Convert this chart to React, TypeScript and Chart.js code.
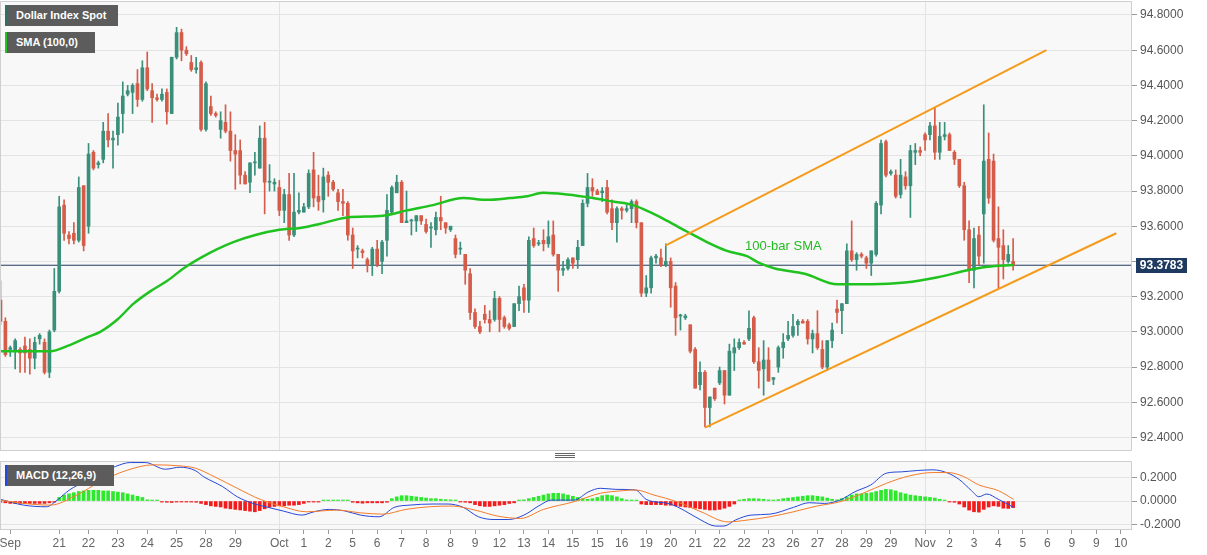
import React, { useEffect, useRef } from "react";
import { Chart, registerables } from "chart.js";

Chart.register(...registerables);

const FONT = '"Liberation Sans", Arial, Helvetica, sans-serif';

// ---- 4H candles (index 0 = first visible bar) ----
const OPEN = [
  93.18, 93.06, 92.9, 92.89, 92.9, 92.92, 92.9, 92.85, 92.96, 92.94,
  92.77, 93.01, 93.23, 93.72, 93.55, 93.56, 93.52, 93.83, 93.6, 94.02,
  93.95, 93.98, 94.14, 94.09, 94.12, 94.24, 94.35, 94.36, 94.41, 94.32,
  94.5, 94.37, 94.33, 94.32, 94.36, 94.24, 94.56, 94.7, 94.6, 94.53,
  94.49, 94.53, 94.15, 94.28, 94.24, 94.15, 94.19, 94.14, 94.03, 94.03,
  93.89, 93.85, 93.96, 93.93, 94.1, 93.85, 93.84, 93.82, 93.69, 93.78,
  93.55, 93.68, 93.68, 93.71, 93.92, 93.77, 93.75, 93.89, 93.85, 93.79,
  93.74, 93.73, 93.55, 93.47, 93.46, 93.41, 93.38, 93.47, 93.4, 93.52,
  93.68, 93.79, 93.85, 93.62, 93.63, 93.63, 93.66, 93.61, 93.59, 93.58,
  93.65, 93.62, 93.58, 93.53, 93.47, 93.44, 93.33, 93.11, 93.03, 93.1,
  93.07, 93.07, 93.19, 93.08, 93.04, 93.03, 93.16, 93.25, 93.18, 93.53,
  93.5, 93.52, 93.5, 93.55, 93.44, 93.35, 93.36, 93.42, 93.41, 93.49,
  93.73, 93.82, 93.8, 93.79, 93.82, 93.7, 93.62, 93.7, 93.69, 93.7,
  93.74, 93.62, 93.22, 93.25, 93.42, 93.42, 93.38, 93.4, 93.26, 93.09,
  93.08, 93.04, 92.9, 92.7, 92.77, 92.57, 92.68, 92.71, 92.78, 92.64,
  92.88, 92.91, 92.94, 92.96, 93.08, 92.83, 92.79, 92.84, 92.73, 92.8,
  92.91, 92.96, 92.98, 93.04, 93.06, 93.06, 92.96, 92.99, 92.9, 92.8,
  92.95, 93.13, 93.12, 93.16, 93.46, 93.41, 93.44, 93.42, 93.39, 93.44,
  93.72, 94.08, 93.9, 93.89, 93.78, 93.88, 93.83, 94.02, 94.03, 94.12,
  94.12, 94.17, 94.02, 94.11, 94.12, 94.02, 93.98, 93.83, 93.58, 93.35,
  93.55, 93.67, 93.98, 93.97, 93.53, 93.49, 93.4, 93.4,
];
const HIGH = [
  93.29, 93.08, 92.92, 92.96, 92.91, 92.97, 92.96, 92.97, 92.99, 92.96,
  93.01, 93.36, 93.77, 93.75, 93.57, 93.62, 93.88, 93.83, 94.07, 94.03,
  93.97, 94.19, 94.24, 94.14, 94.3, 94.42, 94.4, 94.41, 94.49, 94.54,
  94.59, 94.41, 94.35, 94.38, 94.38, 94.56, 94.73, 94.72, 94.62, 94.57,
  94.56, 94.54, 94.42, 94.34, 94.25, 94.25, 94.29, 94.25, 94.12, 94.09,
  93.91, 93.96, 94.02, 94.17, 94.19, 93.95, 93.87, 93.86, 93.81, 93.9,
  93.9, 93.79, 93.73, 93.92, 94.02, 93.89, 93.93, 93.91, 93.86, 93.81,
  93.81, 93.74, 93.59, 93.49, 93.47, 93.42, 93.48, 93.52, 93.52, 93.78,
  93.83, 93.89, 93.86, 93.8, 93.64, 93.66, 93.66, 93.64, 93.62, 93.68,
  93.77, 93.62, 93.6, 93.55, 93.51, 93.44, 93.36, 93.13, 93.06, 93.15,
  93.12, 93.23, 93.2, 93.09, 93.05, 93.16, 93.26, 93.27, 93.54, 93.59,
  93.52, 93.58, 93.63, 93.63, 93.44, 93.4, 93.42, 93.42, 93.52, 93.75,
  93.9, 93.87, 93.81, 93.82, 93.86, 93.75, 93.71, 93.71, 93.72, 93.75,
  93.75, 93.62, 93.32, 93.43, 93.44, 93.47, 93.5, 93.42, 93.28, 93.1,
  93.1, 93.04, 92.91, 92.83, 92.78, 92.63, 92.68, 92.8, 92.78, 92.93,
  92.96, 92.96, 92.95, 93.12, 93.09, 92.91, 92.95, 92.91, 92.74, 92.92,
  92.99, 93.06, 93.1, 93.07, 93.07, 93.07, 93.01, 93.12, 92.95, 92.95,
  93.05, 93.18, 93.16, 93.5, 93.63, 93.45, 93.45, 93.43, 93.46, 93.74,
  94.09, 94.09, 93.92, 93.92, 93.98, 93.91, 94.06, 94.07, 94.05, 94.13,
  94.19, 94.27, 94.19, 94.19, 94.13, 94.03, 93.98, 93.85, 93.63, 93.59,
  93.6, 94.29, 94.13, 94.01, 93.71, 93.58, 93.49, 93.53,
];
const LOW = [
  93.04, 92.86, 92.86, 92.79, 92.77, 92.77, 92.76, 92.79, 92.93, 92.76,
  92.74, 93.0, 93.22, 93.52, 93.5, 93.5, 93.51, 93.46, 93.56, 93.92,
  93.93, 93.96, 94.05, 93.93, 94.06, 94.13, 94.34, 94.24, 94.28, 94.31,
  94.37, 94.19, 94.31, 94.31, 94.18, 94.24, 94.55, 94.54, 94.57, 94.48,
  94.47, 94.14, 94.14, 94.23, 94.22, 94.1, 94.13, 93.97, 93.81, 93.84,
  93.84, 93.79, 93.89, 93.93, 93.67, 93.8, 93.8, 93.66, 93.62, 93.52,
  93.54, 93.67, 93.68, 93.7, 93.71, 93.69, 93.68, 93.77, 93.8, 93.69,
  93.66, 93.52, 93.36, 93.42, 93.42, 93.34, 93.32, 93.37, 93.33, 93.43,
  93.67, 93.79, 93.62, 93.62, 93.55, 93.57, 93.61, 93.56, 93.48, 93.55,
  93.58, 93.56, 93.57, 93.42, 93.44, 93.27, 93.07, 93.02, 92.99, 93.05,
  93.0, 93.06, 93.0, 93.02, 93.01, 93.03, 93.12, 93.11, 93.11, 93.48,
  93.49, 93.46, 93.48, 93.43, 93.23, 93.32, 93.35, 93.36, 93.36, 93.49,
  93.71, 93.77, 93.78, 93.74, 93.67, 93.58, 93.51, 93.64, 93.68, 93.62,
  93.59, 93.2, 93.2, 93.22, 93.39, 93.37, 93.37, 93.14, 92.98, 93.01,
  93.07, 92.88, 92.68, 92.67, 92.46, 92.46, 92.61, 92.7, 92.59, 92.64,
  92.78, 92.9, 92.93, 92.95, 92.82, 92.68, 92.64, 92.72, 92.7, 92.77,
  92.85, 92.95, 92.97, 92.98, 93.05, 92.93, 92.88, 92.9, 92.79, 92.78,
  92.91, 93.05, 92.99, 93.16, 93.4, 93.35, 93.42, 93.36, 93.32, 93.43,
  93.67, 93.88, 93.89, 93.76, 93.76, 93.81, 93.65, 93.95, 94.0, 94.03,
  94.09, 93.98, 93.98, 94.09, 94.03, 93.95, 93.82, 93.52, 93.28, 93.25,
  93.38, 93.39, 93.73, 93.51, 93.25, 93.3, 93.39, 93.35,
];
const CLOSE = [
  93.06, 92.87, 92.91, 92.95, 92.88, 92.88, 92.85, 92.94, 92.98, 92.77,
  93.0, 93.23, 93.71, 93.56, 93.53, 93.52, 93.82, 93.49, 94.01, 93.93,
  93.96, 94.14, 94.09, 94.1, 94.22, 94.34, 94.37, 94.4, 94.32, 94.5,
  94.38, 94.33, 94.32, 94.35, 94.25, 94.56, 94.7, 94.6, 94.58, 94.49,
  94.5, 94.15, 94.41, 94.24, 94.23, 94.2, 94.14, 94.03, 94.01, 93.89,
  93.84, 93.96, 93.96, 94.1, 93.85, 93.85, 93.85, 93.69, 93.78, 93.55,
  93.68, 93.69, 93.71, 93.9, 93.76, 93.74, 93.88, 93.85, 93.81, 93.74,
  93.73, 93.55, 93.46, 93.47, 93.45, 93.38, 93.47, 93.38, 93.51, 93.69,
  93.82, 93.85, 93.62, 93.63, 93.63, 93.66, 93.63, 93.57, 93.59, 93.65,
  93.63, 93.59, 93.6, 93.44, 93.47, 93.35, 93.11, 93.03, 93.0, 93.07,
  93.05, 93.19, 93.07, 93.03, 93.02, 93.16, 93.2, 93.18, 93.52, 93.49,
  93.5, 93.5, 93.54, 93.44, 93.35, 93.36, 93.41, 93.39, 93.48, 93.73,
  93.82, 93.8, 93.78, 93.8, 93.68, 93.62, 93.7, 93.69, 93.7, 93.74,
  93.62, 93.22, 93.25, 93.42, 93.43, 93.38, 93.4, 93.25, 93.08, 93.09,
  93.09, 92.89, 92.68, 92.77, 92.57, 92.63, 92.62, 92.78, 92.64, 92.89,
  92.91, 92.94, 92.93, 93.02, 92.83, 92.78, 92.84, 92.72, 92.74, 92.91,
  92.94, 92.98, 93.03, 93.06, 93.05, 92.96, 92.99, 92.91, 92.8, 92.95,
  93.01, 93.11, 93.16, 93.46, 93.41, 93.44, 93.43, 93.39, 93.46, 93.73,
  94.07, 93.89, 93.91, 93.77, 93.89, 93.83, 94.03, 94.03, 94.02, 94.09,
  94.17, 94.02, 94.11, 94.12, 94.03, 93.98, 93.83, 93.58, 93.35, 93.53,
  93.43, 93.97, 93.76, 93.52, 93.48, 93.41, 93.44, 93.3783,
];

// ---- 100-bar SMA, read at sample bars ----
const SMA_BAR = [
  0, 10.2, 13.7, 17.8, 20.4, 23.9, 27.2, 30.6, 34.1, 37.4, 40.9, 44.3, 47.6,
  52.1, 57, 61.3, 64.8, 70.9, 78.2, 83.1, 88.4, 94.6, 99.5, 104.2, 107.7,
  110.9, 115.8, 121.1, 125.2, 129.3, 132.8, 136.3, 140.3, 144.4, 148.5,
  152.6, 155.2, 158.3, 164.4, 171.1, 178.1, 184.9, 191.6, 197.7, 201.8, 207,
];
const SMA_VALUE = [
  92.89, 92.89, 92.92, 92.97, 93.0, 93.07, 93.16, 93.23, 93.29, 93.36, 93.42,
  93.47, 93.51, 93.55, 93.58, 93.59, 93.61, 93.65, 93.66, 93.69, 93.72, 93.76,
  93.75, 93.76, 93.77, 93.79, 93.78, 93.76, 93.74, 93.72, 93.68, 93.63, 93.57,
  93.51, 93.46, 93.43, 93.39, 93.36, 93.33, 93.27, 93.27, 93.28, 93.31, 93.35,
  93.37, 93.38,
];

// ---- channel lines (bar index, price) ----
const UPPER_CHANNEL_BAR = [135.9, 213.8];
const UPPER_CHANNEL_PRICE = [93.49, 94.6];
const LOWER_CHANNEL_BAR = [144, 228.1];
const LOWER_CHANNEL_PRICE = [92.456, 93.56];

const LAST_PRICE = 93.3783;
const SMA_LABEL_BAR = 152.2;
const SMA_LABEL_PRICE = 93.483;

// ---- MACD (12,26,9) ----
const MACD_BAR = [
  0, 4.7, 9.4, 11.6, 14.1, 17.2, 20.4, 23.5, 26.5, 29.6, 33.7, 36.7, 39.8,
  41.5, 45.4, 48.4, 51.6, 54.7, 57.8, 61.6, 64.1, 67.2, 70.3, 73.6, 77.4,
  80.5, 83.7, 88.4, 91.5, 94.6, 97.7, 100.9, 103.9, 107, 110.3, 112.6, 117.2,
  120.3, 122.6, 125.8, 129.8, 132, 136.9, 139.9, 143.2, 146.2, 147.9, 150.2,
  153.4, 157.3, 162.1, 165.3, 168.4, 171.6, 174.7, 177.9, 181.1, 184.2, 187.4,
  190.6, 193.7, 196.1, 198.5, 200, 201.6, 204, 207.1,
];
const MACD_VALUE = [
  0.014, -0.034, -0.048, 0.008, 0.093, 0.163, 0.234, 0.29, 0.323, 0.323,
  0.267, 0.284, 0.256, 0.205, 0.121, 0.036, -0.02, -0.053, -0.084, -0.118,
  -0.09, -0.07, -0.082, -0.118, -0.132, -0.053, -0.034, -0.025, -0.025,
  -0.053, -0.132, -0.155, -0.155, -0.118, -0.034, 0.008, 0.008, 0.079, 0.107,
  0.098, 0.093, 0.014, -0.025, -0.082, -0.16, -0.21, -0.21, -0.16, -0.118,
  -0.11, -0.053, -0.014, -0.02, 0.008, 0.079, 0.135, 0.234, 0.245, 0.256,
  0.262, 0.234, 0.177, 0.087, 0.036, 0.059, 0.014, -0.053,
];
const SIGNAL_BAR = [
  0, 4.7, 10.2, 15.6, 20.4, 25.7, 31.3, 36.7, 39.8, 43.7, 48.4, 53.1, 57.8,
  62.5, 68.8, 73.6, 78.2, 82.9, 87.7, 92.3, 97, 101.7, 106.3, 111, 117.2,
  122.6, 127.3, 129.8, 133.6, 138.3, 143.2, 148.7, 152.6, 157.3, 162.1, 166.9,
  171.6, 176.3, 181.1, 185.8, 190.6, 193.7, 196.9, 200, 204, 207.1,
];
const SIGNAL_VALUE = [
  0.008, -0.02, -0.034, 0.05, 0.163, 0.256, 0.304, 0.295, 0.276, 0.205, 0.107,
  0.014, -0.048, -0.09, -0.076, -0.099, -0.11, -0.07, -0.048, -0.042, -0.076,
  -0.127, -0.146, -0.07, -0.006, 0.065, 0.087, 0.093, 0.05, -0.006, -0.09,
  -0.175, -0.16, -0.132, -0.09, -0.042, -0.006, 0.065, 0.149, 0.211, 0.239,
  0.239, 0.205, 0.135, 0.087, 0.014,
];
const HISTOGRAM = [
  -0.01, -0.015, -0.02, -0.02, -0.02, -0.02, -0.02, -0.02, -0.02, -0.02, -0.015, -0.01,
  0.03, 0.05, 0.06, 0.07, 0.08, 0.085, 0.09, 0.09, 0.09, 0.085, 0.085, 0.08, 0.075, 0.07, 0.06, 0.05, 0.04, 0.03, 0.01,
  0.005, 0.003, -0.005, -0.01, -0.012, -0.008, -0.003, -0.003, -0.005, -0.01,
  -0.02, -0.03, -0.04, -0.045, -0.05, -0.06, -0.065, -0.07, -0.075, -0.08, -0.085, -0.09, -0.08, -0.065, -0.05, -0.045, -0.04, -0.04, -0.035, -0.035, -0.03, -0.02,
  -0.008, -0.005, -0.003,
  0.004, 0.005, 0.005, 0.005, 0.004, 0.003,
  -0.01, -0.015, -0.018, -0.015, -0.015, -0.015, -0.015, -0.01,
  0.02, 0.035, 0.045, 0.045, 0.04, 0.035, 0.03, 0.025, 0.02, 0.02, 0.015, 0.012, 0.01, 0.008,
  -0.005, -0.01, -0.015, -0.03, -0.04, -0.045, -0.045, -0.04, -0.035, -0.03, -0.02, -0.015,
  0.005, 0.01, 0.02, 0.03, 0.04, 0.05, 0.06, 0.065, 0.065, 0.06, 0.05, 0.04, 0.03, 0.02, 0.015, 0.02, 0.03, 0.045,
  0.05, 0.045, 0.035, 0.02, 0.01, 0.005, 0.003,
  -0.025, -0.03, -0.03, -0.03, -0.03, -0.035, -0.035, -0.04, -0.045, -0.05, -0.055, -0.06, -0.065, -0.07, -0.075, -0.075, -0.07, -0.06, -0.045, -0.025,
  0.005, 0.015, 0.02, 0.02, 0.018, 0.015, 0.01, 0.008, 0.012, 0.02, 0.025, 0.03, 0.035, 0.04, 0.045, 0.045, 0.04, 0.035, 0.025, 0.015, 0.01,
  0.02, 0.035, 0.05, 0.06, 0.06, 0.065, 0.07, 0.08, 0.09, 0.098, 0.095, 0.085, 0.07, 0.06, 0.05, 0.045, 0.04, 0.035, 0.03, 0.025, 0.015, 0.008,
  -0.003, -0.01, -0.025, -0.05, -0.076, -0.09, -0.093, -0.07, -0.05, -0.04, -0.045, -0.06, -0.062, -0.055,
];

// ---- axes ----
const PRICE_TICKS = [92.4, 92.6, 92.8, 93.0, 93.2, 93.4, 93.6, 93.8, 94.0, 94.2, 94.4, 94.6, 94.8];
const PRICE_TICK_UNDER_LABEL = 93.4;
const MACD_TICKS = [-0.2, 0, 0.2];
const TIME_TICK_BAR = [
  2, 12, 18, 24, 30, 36, 42, 48, 57, 62, 67, 72, 77, 82, 87, 92, 97, 102, 107,
  112, 117, 122, 127, 132, 137, 142, 147, 152, 157, 162, 167, 172, 177, 182,
  189, 194, 199, 204, 209, 214, 219, 224, 229,
];
const TIME_TICK_LABEL = [
  "Sep", "21", "22", "23", "24", "25", "28", "29", "Oct", "1", "2", "5", "6",
  "7", "8", "8", "9", "12", "13", "14", "15", "15", "16", "19", "20", "21",
  "22", "22", "23", "26", "27", "28", "29", "29", "Nov", "2", "3", "4", "5",
  "6", "9", "9", "10",
];
const MONTH_TICK_BAR = [57, 189];

const X_MIN = -0.1;
const X_MAX = 231.3;
const PRICE_MIN = 92.323;
const PRICE_MAX = 94.8795;
const MACD_MIN = -0.243;
const MACD_MAX = 0.336;

const UP = "#3a8f7b";
const DOWN = "#d65c4a";
const AXIS_W = 75;

function xScale(showLabels: boolean) {
  return {
    type: "linear" as const,
    min: X_MIN,
    max: X_MAX,
    offset: false,
    afterBuildTicks: (s: any) => {
      s.ticks = TIME_TICK_BAR.map((v) => ({ value: v }));
    },
    afterFit: (s: any) => {
      s.height = showLabels ? 25 : 0;
      s.paddingLeft = 0;
      s.paddingRight = 0;
    },
    border: { display: false },
    grid: {
      offset: false,
      drawTicks: showLabels,
      tickLength: 4,
      tickColor: "#9a9a9a",
      color: (c: any) =>
        c.tick && MONTH_TICK_BAR.includes(c.tick.value) ? "#e2e2e2" : "rgba(0,0,0,0)",
    },
    ticks: {
      display: showLabels,
      autoSkip: false,
      maxRotation: 0,
      minRotation: 0,
      padding: 2,
      color: "#666",
      font: { size: 12, family: FONT },
      callback: (_v: any, i: number) => TIME_TICK_LABEL[i],
    },
  };
}

function yScale(min: number, max: number, ticks: number[], label: (v: number) => string) {
  return {
    type: "linear" as const,
    position: "right" as const,
    min,
    max,
    afterBuildTicks: (s: any) => {
      s.ticks = ticks.map((v) => ({ value: v }));
    },
    afterFit: (s: any) => {
      s.width = AXIS_W;
      s.paddingTop = 0;
      s.paddingBottom = 0;
    },
    border: { display: false },
    grid: { color: "#e4e4e4", tickColor: "#9a9a9a", tickLength: 5 },
    ticks: {
      padding: 3,
      color: "#555",
      font: { size: 12, family: FONT },
      callback: (v: any) => label(Number(v)),
    },
  };
}

const panelPlugin = (drawExtra?: (chart: any) => void) => ({
  id: "panelDecor",
  beforeDraw(chart: any) {
    const { ctx, chartArea: a } = chart;
    ctx.save();
    ctx.fillStyle = "#f8f8f8";
    ctx.fillRect(a.left, a.top, a.right - a.left, a.bottom - a.top);
    ctx.restore();
  },
  afterDraw(chart: any) {
    const { ctx, chartArea: a } = chart;
    ctx.save();
    ctx.strokeStyle = "#cfcfcf";
    ctx.lineWidth = 1;
    ctx.strokeRect(a.left + 0.5, a.top + 0.5, a.right - a.left - 1, a.bottom - a.top - 1);
    ctx.restore();
    if (drawExtra) drawExtra(chart);
  },
});

export default function App() {
  const mainRef = useRef<HTMLCanvasElement>(null);
  const macdRef = useRef<HTMLCanvasElement>(null);

  useEffect(() => {
    Chart.defaults.font.family = FONT;
    const idx = OPEN.map((_, i) => i);
    const candleColor = idx.map((i) => (CLOSE[i] >= OPEN[i] ? UP : DOWN));

    const mainExtra = (chart: any) => {
      const { ctx, chartArea: a, scales } = chart;
      const y = scales.y.getPixelForValue(LAST_PRICE);
      ctx.save();
      ctx.fillStyle = "#1f3a60";
      ctx.fillRect(a.right + 4, Math.round(y) - 7, 51, 15);
      ctx.fillStyle = "#fff";
      ctx.font = `bold 12px ${FONT}`;
      ctx.textAlign = "center";
      ctx.textBaseline = "middle";
      ctx.fillText(LAST_PRICE.toFixed(4), a.right + 4 + 25.5, Math.round(y) + 0.5);
      ctx.fillStyle = "#22bb22";
      ctx.font = `13px ${FONT}`;
      ctx.textAlign = "left";
      ctx.fillText(
        "100-bar SMA",
        scales.x.getPixelForValue(SMA_LABEL_BAR),
        scales.y.getPixelForValue(SMA_LABEL_PRICE)
      );
      ctx.restore();
    };

    const main = new Chart(mainRef.current!, {
      type: "bar",
      data: {
        datasets: [
          {
            type: "line",
            data: SMA_BAR.map((x, i) => ({ x, y: SMA_VALUE[i] })),
            borderColor: "#1fc21f",
            borderWidth: 2.5,
            pointRadius: 0,
            cubicInterpolationMode: "monotone",
            order: 1,
          } as any,
          {
            type: "line",
            data: UPPER_CHANNEL_BAR.map((x, i) => ({ x, y: UPPER_CHANNEL_PRICE[i] })),
            borderColor: "#f59b1b",
            borderWidth: 2,
            pointRadius: 0,
            order: 0,
          } as any,
          {
            type: "line",
            data: LOWER_CHANNEL_BAR.map((x, i) => ({ x, y: LOWER_CHANNEL_PRICE[i] })),
            borderColor: "#f59b1b",
            borderWidth: 2,
            pointRadius: 0,
            order: 0,
          } as any,
          {
            type: "line",
            data: [
              { x: X_MIN, y: LAST_PRICE },
              { x: X_MAX, y: LAST_PRICE },
            ],
            borderColor: "#1f3a60",
            borderWidth: 1,
            pointRadius: 0,
            order: 4,
          } as any,
          {
            type: "bar",
            data: idx.map((i) => ({ x: i, y: [LOW[i], HIGH[i]] })),
            backgroundColor: candleColor,
            barThickness: 1,
            grouped: false,
            order: 3,
          } as any,
          {
            type: "bar",
            data: idx.map((i) => ({ x: i, y: [OPEN[i], CLOSE[i]] })),
            backgroundColor: candleColor,
            barThickness: 3,
            minBarLength: 1,
            grouped: false,
            order: 2,
          } as any,
        ],
      },
      options: {
        responsive: false,
        animation: false,
        layout: { padding: { top: 1, bottom: 1, left: 0, right: 0 } },
        plugins: { legend: { display: false }, tooltip: { enabled: false } },
        scales: {
          x: xScale(false) as any,
          y: yScale(PRICE_MIN, PRICE_MAX, PRICE_TICKS, (v) =>
            Math.abs(v - PRICE_TICK_UNDER_LABEL) < 1e-6 ? "" : v.toFixed(4)
          ) as any,
        },
      },
      plugins: [panelPlugin(mainExtra)],
    });

    const macd = new Chart(macdRef.current!, {
      type: "bar",
      data: {
        datasets: [
          {
            type: "line",
            data: MACD_BAR.map((x, i) => ({ x, y: MACD_VALUE[i] })),
            borderColor: "#2748d8",
            borderWidth: 1,
            pointRadius: 0,
            cubicInterpolationMode: "monotone",
            order: 1,
          } as any,
          {
            type: "line",
            data: SIGNAL_BAR.map((x, i) => ({ x, y: SIGNAL_VALUE[i] })),
            borderColor: "#f57c2a",
            borderWidth: 1,
            pointRadius: 0,
            cubicInterpolationMode: "monotone",
            order: 0,
          } as any,
          {
            type: "bar",
            data: HISTOGRAM.map((v, i) => ({ x: i, y: v })),
            backgroundColor: HISTOGRAM.map((v) => (v >= 0 ? "#2ee82e" : "#f21c1c")),
            barThickness: 3,
            minBarLength: 1,
            grouped: false,
            order: 2,
          } as any,
        ],
      },
      options: {
        responsive: false,
        animation: false,
        layout: { padding: { top: 6, bottom: 0, left: 0, right: 0 } },
        plugins: { legend: { display: false }, tooltip: { enabled: false } },
        scales: {
          x: xScale(true) as any,
          y: yScale(MACD_MIN, MACD_MAX, MACD_TICKS, (v) => v.toFixed(4)) as any,
        },
      },
      plugins: [panelPlugin()],
    });

    return () => {
      main.destroy();
      macd.destroy();
    };
  }, []);

  const tag = (top: number, width: number, stripe: string, text: string) => (
    <div
      style={{
        position: "absolute",
        left: 5,
        top,
        width,
        height: 21,
        boxSizing: "border-box",
        background: "#5c5c5c",
        borderLeft: `2px solid ${stripe}`,
        color: "#fff",
        font: `bold 11px ${FONT}`,
        lineHeight: "21px",
        paddingLeft: 9,
        whiteSpace: "nowrap",
      }}
    >
      {text}
    </div>
  );

  return (
    <div
      style={{
        position: "fixed",
        left: 0,
        top: 0,
        width: 1207,
        height: 555,
        background: "#fff",
        overflow: "hidden",
      }}
    >
      <canvas
        ref={mainRef}
        width={1207}
        height={452}
        style={{ position: "absolute", left: 0, top: 0, width: 1207, height: 452 }}
      />
      <canvas
        ref={macdRef}
        width={1207}
        height={100}
        style={{ position: "absolute", left: 0, top: 455, width: 1207, height: 100 }}
      />
      {[453, 455, 457].map((y) => (
        <div
          key={y}
          style={{ position: "absolute", left: 555, top: y, width: 20, height: 1, background: "#666" }}
        />
      ))}
      {tag(5, 113, "#2f6f6a", "Dollar Index Spot")}
      {tag(32, 90, "#22c422", "SMA (100,0)")}
      {tag(465, 109, "#2748d8", "MACD (12,26,9)")}
    </div>
  );
}
